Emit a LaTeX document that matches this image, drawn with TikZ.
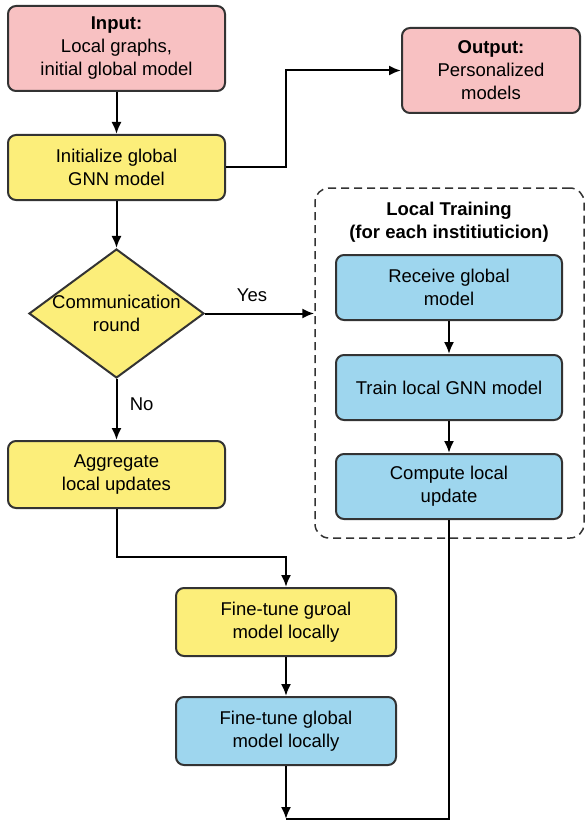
\documentclass[tikz,border=0pt]{standalone}
\usepackage{fontspec}
\setmainfont{Liberation Sans}
\usetikzlibrary{positioning,shapes.geometric,arrows.meta}
\definecolor{pinkfill}{HTML}{F8C1C2}
\definecolor{yellowfill}{HTML}{FCEE7A}
\definecolor{bluefill}{HTML}{9ED6EE}
\definecolor{linegray}{HTML}{333333}

\begin{document}
\begin{tikzpicture}
[x=1pt,y=1pt,font=\fontsize{18.5}{23}\selectfont,
 box/.style={draw=linegray,line width=2pt,rounded corners=8pt,align=center,inner sep=2pt},
 pinkbox/.style={box,fill=pinkfill,minimum width=217pt,minimum height=85pt},
 yellowbox/.style={box,fill=yellowfill,minimum width=217pt,minimum height=65pt},
 bluebox/.style={box,fill=bluefill,minimum width=226pt,minimum height=65pt},
 decision/.style={draw=linegray,line width=2pt,diamond,aspect=1.36,fill=yellowfill,align=center,
   minimum width=175pt,minimum height=129pt,inner xsep=-2pt,inner ysep=-3pt},
 group/.style={draw=linegray,line width=1.5pt,dash pattern=on 8pt off 5pt,rounded corners=14pt,
   minimum width=269pt,minimum height=350pt},
 link/.style={draw=black,line width=2pt},
 flow/.style={link,-{Latex[length=12pt,width=10pt]}}]
\useasboundingbox (0,0) rectangle (586,-821);
% left column
\node[pinkbox](input) at (116.5,-48.5){\textbf{Input:}\\Local graphs,\\initial global model};
\node[yellowbox, below=42pt of input](init){Initialize global\\GNN model};
\node[decision, below=47pt of init](round){Communication\\round};
\node[yellowbox, below=61pt of round,minimum height=67pt](aggregate){Aggregate\\local updates};
% output
\node[pinkbox,minimum width=178pt](output) at (491,-70.5){\textbf{Output:}\\Personalized\\models};
% local training group
\node[group](local) at (449.5,-363){};
\node[font=\fontsize{18.5}{23}\selectfont\bfseries,align=center](title) at (449,-222){Local Training\\(for each institiuticion)};
\node[bluebox](receive) at (449,-287.5){Receive global\\model};
\node[bluebox, below=33pt of receive](train){Train local GNN model};
\node[bluebox, below=32pt of train](compute){Compute local\\update};
% fine-tuning
\node[yellowbox,minimum width=220pt,minimum height=68pt](tuneA) at (286,-622){Fine-tune gưoal\\model locally};
\node[bluebox,minimum width=220pt,minimum height=68pt, below=39pt of tuneA](tuneB){Fine-tune global\\model locally};
\coordinate (merge) at (286,-819);
% connectors
\path[flow] (input) -- (init);
\path[flow] (init.east) -- ++(60,0) |- (output.west);
\path[flow] (init) -- (round);
\path[flow] (round.east) -- node[above=7pt,pos=0.43]{Yes} (round.east -| local.west);
\path[flow] (round) -- node[right=9pt,pos=0.42]{No} (aggregate);
\path[flow] (receive) -- (train);
\path[flow] (train) -- (compute);
\path[flow] (aggregate.south) -- ++(0,-48) -| (tuneA.north);
\path[flow] (tuneA) -- (tuneB);
\path[link] (compute.south) |- (merge);
\path[flow] (tuneB) -- (merge);
\end{tikzpicture}
\end{document}
